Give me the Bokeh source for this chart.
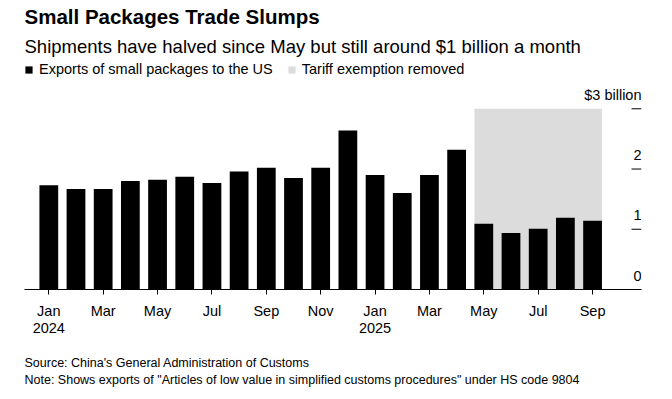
from bokeh.plotting import figure
from bokeh.models import (Range1d, FixedTicker, Title, Legend, LegendItem, ColumnDataSource)
from bokeh.core.properties import value
from bokeh.embed import file_html
from bokeh.resources import INLINE

# ---- data ----
months = ["Jan 2024", "Feb 2024", "Mar 2024", "Apr 2024", "May 2024", "Jun 2024",
          "Jul 2024", "Aug 2024", "Sep 2024", "Oct 2024", "Nov 2024", "Dec 2024",
          "Jan 2025", "Feb 2025", "Mar 2025", "Apr 2025", "May 2025", "Jun 2025",
          "Jul 2025", "Aug 2025", "Sep 2025"]
exports_bn = [1.73, 1.67, 1.67, 1.80, 1.82, 1.87, 1.77, 1.96, 2.02, 1.85, 2.02, 2.64,
              1.90, 1.60, 1.90, 2.32, 1.09, 0.94, 1.01, 1.19, 1.14]
tick_labels = {0: "Jan\n2024", 2: "Mar", 4: "May", 6: "Jul", 8: "Sep", 10: "Nov",
               12: "Jan\n2025", 14: "Mar", 16: "May", 18: "Jul", 20: "Sep"}
y_ticks = [0, 1, 2, 3]
y_tick_labels = ["0", "1", "2", "$3 billion"]
exemption_start = "May 2025"
exemption_end = "Sep 2025"

FONT = "Liberation Sans"
BAR_W = 0.69

idx = list(range(len(months)))
x0, x1 = -0.894, 21.80
y0, y1 = 0, 3.785

p = figure(frame_width=617, frame_height=228, output_backend="svg", toolbar_location=None,
           x_range=Range1d(x0, x1), y_range=Range1d(y0, y1),
           min_border_left=24, min_border_right=15, min_border_top=0,
           min_border_bottom=0)
p.title.visible = False
p.outline_line_color = None
p.xgrid.visible = False
p.ygrid.visible = False
p.yaxis.visible = False

# shaded exemption period
s_i = months.index(exemption_start)
e_i = months.index(exemption_end)
shade = p.quad(left=[s_i - BAR_W / 2], right=[e_i + BAR_W / 2], bottom=[0], top=[max(y_ticks)],
               fill_color="#dcdcdc", line_color=None)

src = ColumnDataSource(dict(x=idx, top=exports_bn))
bars = p.vbar(x="x", top="top", width=BAR_W, source=src, fill_color="black", line_color=None)

# right-side value ticks and labels
tick_len = 10 / 27.19
p.segment(x0=[x1 - tick_len] * len(y_ticks), x1=[x1] * len(y_ticks), y0=y_ticks, y1=y_ticks,
          line_color="black", line_width=1)
p.text(x=[x1] * len(y_ticks), y=y_ticks, text=y_tick_labels, text_align="right",
       text_baseline="alphabetic", y_offset=-14, text_font=value(FONT),
       text_font_size="14.5px", text_color="black")

ax = p.xaxis[0]
ax.ticker = FixedTicker(ticks=list(tick_labels.keys()))
ax.major_label_overrides = tick_labels
ax.axis_line_color = "black"
ax.major_tick_line_color = "black"
ax.major_tick_out = 5
ax.major_tick_in = 0
ax.minor_tick_line_color = None
ax.major_label_text_font = FONT
ax.major_label_text_font_size = "14.5px"
ax.major_label_text_color = "black"
ax.major_label_text_line_height = 1.1
ax.major_label_standoff = 8

legend = Legend(items=[LegendItem(label="Exports of small packages to the US", renderers=[bars]),
                       LegendItem(label="Tariff exemption removed", renderers=[shade])],
                orientation="horizontal", location="top_left", glyph_width=9, glyph_height=9,
                label_standoff=6, spacing=14, padding=2, margin=0, border_line_color=None,
                background_fill_alpha=0, label_text_font=FONT, label_text_font_size="14.5px",
                label_text_color="black", label_height=12)
p.add_layout(legend, "center")

sub = Title(text="Shipments have halved since May but still around $1 billion a month",
            text_font=FONT, text_font_size="18.5px", text_font_style="normal",
            text_color="black", align="left", standoff=9)
p.add_layout(sub, "above")
ttl = Title(text="Small Packages Trade Slumps", text_font=FONT, text_font_size="20.5px",
            text_font_style="bold", text_color="black", align="left", standoff=4)
p.add_layout(ttl, "above")

foot = Title(text="Source: China's General Administration of Customs\n"
                  'Note: Shows exports of "Articles of low value in simplified customs procedures" under HS code 9804',
             text_font=FONT, text_font_size="12.5px", text_font_style="normal",
             text_color="black", align="left", standoff=29, text_line_height=1.2)
p.add_layout(foot, "below")

open("out.html", "w").write(file_html(p, INLINE))
